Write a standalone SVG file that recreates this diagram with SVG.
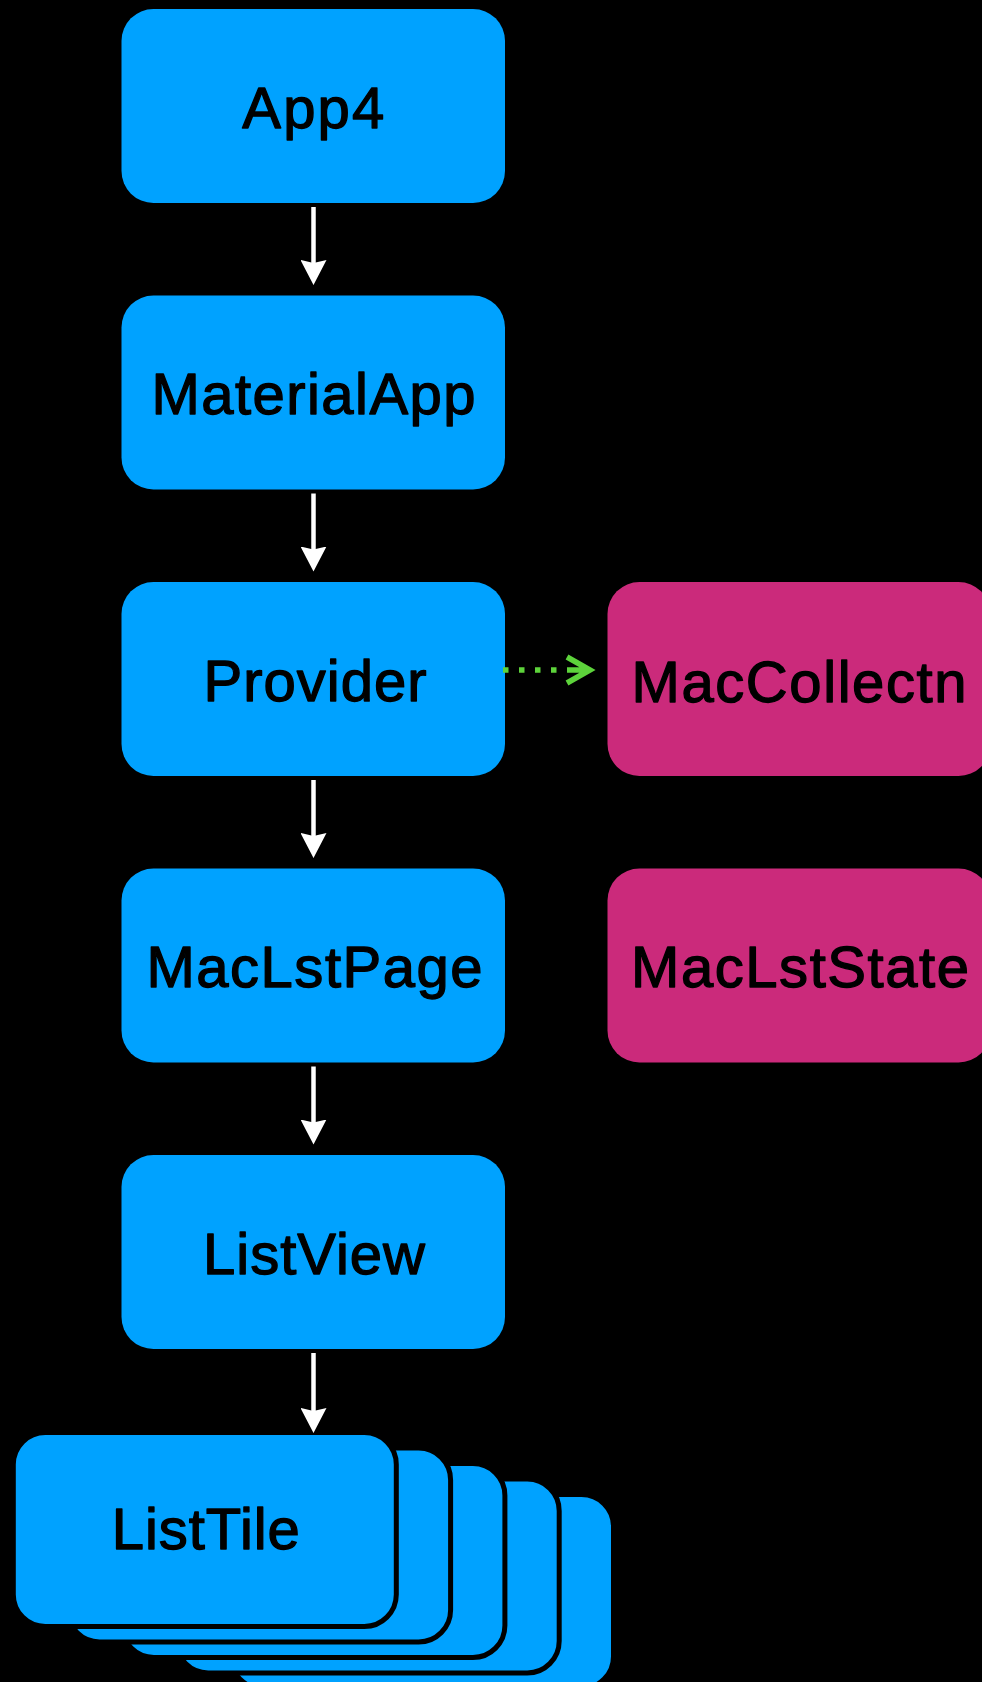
<svg xmlns="http://www.w3.org/2000/svg" width="982" height="1682" viewBox="0 0 982 1682">
  <style>
    .bg { fill: #000; }
    .widget { fill: #00A2FF; }
    .state { fill: #CB2A7B; }
    .tile { fill: #00A2FF; stroke: #000; stroke-width: 5; }
    .label { font-family: "Liberation Sans", Arial, Helvetica, sans-serif; font-size: 58px; fill: #000; stroke: #000; stroke-width: 1.3; stroke-linejoin: round; text-anchor: middle; }
    .edge { stroke: #fff; stroke-width: 4.5; fill: none; }
    .dep { stroke: #5DD33B; stroke-width: 5.5; fill: none; stroke-dasharray: 5.5 10.5; }
  </style>
  <defs>
    <marker id="head-white" markerUnits="userSpaceOnUse" viewBox="0 0 26 26" markerWidth="26" markerHeight="26" refX="5" refY="13" orient="auto">
      <path d="M0,0 L25,13 L0,26 L3,13 Z" fill="#fff"/>
    </marker>
    <marker id="head-green" markerUnits="userSpaceOnUse" viewBox="0 0 40 32" markerWidth="40" markerHeight="32" refX="4" refY="16" orient="auto">
      <path d="M4,3 L27,16 L4,29 M4,16 L27,16" fill="none" stroke="#5DD33B" stroke-width="5.5" stroke-linejoin="miter"/>
    </marker>
  </defs>

  <rect class="bg" x="0" y="0" width="982" height="1682"/>

  <!-- widget tree, top to bottom -->
  <g id="app4">
    <rect class="widget" x="121.5" y="9" width="383.5" height="194" rx="32"/>
    <text class="label" x="313.3" y="128" textLength="142" lengthAdjust="spacing">App4</text>
  </g>
  <g id="material-app">
    <rect class="widget" x="121.5" y="295.5" width="383.5" height="194" rx="32"/>
    <text class="label" x="313.5" y="413.5" textLength="324" lengthAdjust="spacing">MaterialApp</text>
  </g>
  <g id="provider">
    <rect class="widget" x="121.5" y="582" width="383.5" height="194" rx="32"/>
    <text class="label" x="315" y="700.5" textLength="223" lengthAdjust="spacing">Provider</text>
  </g>
  <g id="mac-lst-page">
    <rect class="widget" x="121.5" y="868.5" width="383.5" height="194" rx="32"/>
    <text class="label" x="314.5" y="987" textLength="336" lengthAdjust="spacing">MacLstPage</text>
  </g>
  <g id="list-view">
    <rect class="widget" x="121.5" y="1155" width="383.5" height="194" rx="32"/>
    <text class="label" x="314" y="1273.5" textLength="222" lengthAdjust="spacing">ListView</text>
  </g>

  <!-- stacked list tiles, drawn back to front -->
  <g id="list-tile">
    <rect class="tile" x="230.5" y="1494.5" width="383" height="194" rx="32"/>
    <rect class="tile" x="176.2" y="1479" width="383" height="194" rx="32"/>
    <rect class="tile" x="121.9" y="1463.5" width="383" height="194" rx="32"/>
    <rect class="tile" x="67.6" y="1448" width="383" height="194" rx="32"/>
    <rect class="tile" x="13.3" y="1432.5" width="383" height="194" rx="32"/>
    <text class="label" x="205.8" y="1549.3" textLength="188" lengthAdjust="spacing">ListTile</text>
  </g>

  <!-- state objects -->
  <g id="mac-collectn">
    <rect class="state" x="607.5" y="582" width="383" height="194" rx="32"/>
    <text class="label" x="799" y="701.5" textLength="335" lengthAdjust="spacing">MacCollectn</text>
  </g>
  <g id="mac-lst-state">
    <rect class="state" x="607.5" y="868.5" width="383" height="194" rx="32"/>
    <text class="label" x="800" y="987" textLength="338" lengthAdjust="spacing">MacLstState</text>
  </g>

  <!-- connectors -->
  <g id="connectors">
    <line class="edge" x1="313.5" y1="207" x2="313.5" y2="265" marker-end="url(#head-white)"/>
    <line class="edge" x1="313.5" y1="493.5" x2="313.5" y2="551.5" marker-end="url(#head-white)"/>
    <line class="edge" x1="313.5" y1="780" x2="313.5" y2="838" marker-end="url(#head-white)"/>
    <line class="edge" x1="313.5" y1="1066.5" x2="313.5" y2="1124.5" marker-end="url(#head-white)"/>
    <line class="edge" x1="313.5" y1="1353" x2="313.5" y2="1413" marker-end="url(#head-white)"/>
    <line class="dep" x1="503" y1="670" x2="567" y2="670" marker-end="url(#head-green)"/>
  </g>
</svg>
